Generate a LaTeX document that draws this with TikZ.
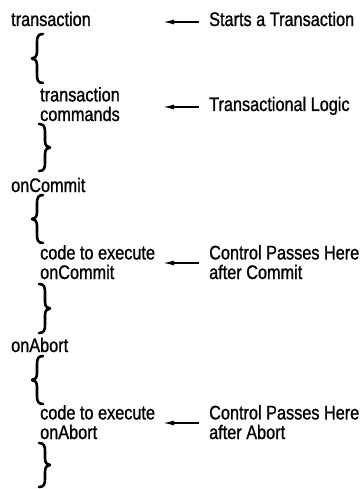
\documentclass[tikz,border=0pt]{standalone}
\usepackage{fontspec}
\setmainfont{Liberation Sans}[FakeStretch=0.83, FakeBold=1]
\usetikzlibrary{arrows.meta}
\tikzset{
  txt/.style={anchor=base west, inner sep=0pt, align=left,
              font=\fontsize{19.6}{19.6}\selectfont},
  ptr/.style={line width=1.4pt, -{Latex[length=11pt,width=5pt]}},
  brace/.style={line width=2.6pt, line cap=round, line join=round}
}
% opening brace: top at y=#2, bottom at y=#3, tips at x=#1+11, point at x=#1
\newcommand{\openbr}[3]{%
  \draw[brace] (#1+11,#2) .. controls (#1+6,#2) and (#1+5,#2+3) .. (#1+5,#2+8)
    -- (#1+5,{(#2+#3)/2-7}) .. controls (#1+5,{(#2+#3)/2-2}) and (#1+3,{(#2+#3)/2}) .. (#1,{(#2+#3)/2})
    .. controls (#1+3,{(#2+#3)/2}) and (#1+5,{(#2+#3)/2+2}) .. (#1+5,{(#2+#3)/2+7})
    -- (#1+5,#3-8) .. controls (#1+5,#3-3) and (#1+6,#3) .. (#1+11,#3);}
% closing brace: tips at x=#1, point at x=#1+11
\newcommand{\closebr}[3]{%
  \draw[brace] (#1,#2) .. controls (#1+5,#2) and (#1+6,#2+3) .. (#1+6,#2+8)
    -- (#1+6,{(#2+#3)/2-7}) .. controls (#1+6,{(#2+#3)/2-2}) and (#1+8,{(#2+#3)/2}) .. (#1+11,{(#2+#3)/2})
    .. controls (#1+8,{(#2+#3)/2}) and (#1+6,{(#2+#3)/2+2}) .. (#1+6,{(#2+#3)/2+7})
    -- (#1+6,#3-8) .. controls (#1+6,#3-3) and (#1+5,#3) .. (#1,#3);}
\begin{document}
\begin{tikzpicture}[x=1pt, y=-1pt]
  \useasboundingbox (0,0) rectangle (361,489);

  % left column: code skeleton (multi-line nodes placed by last baseline)
  \node[txt] (tr)   at (11,26)  {transaction};
  \node[txt] (cmd)  at (40,121) {transaction\\commands};
  \node[txt] (oc)   at (11,192) {onCommit};
  \node[txt] (occ)  at (40,279) {code to execute\\onCommit};
  \node[txt] (oa)   at (11,352) {onAbort};
  \node[txt] (oac)  at (40,439) {code to execute\\onAbort};

  % braces
  \openbr{32}{34}{83}
  \closebr{39}{124}{171}
  \openbr{32}{195}{243}
  \closebr{39}{284}{333}
  \openbr{32}{356}{404}
  \closebr{39}{443}{487}

  % right column: annotations
  \node[txt] (n1) at (209,26)  {Starts a Transaction};
  \node[txt] (n2) at (209,111) {Transactional Logic};
  \node[txt] (n3) at (209,279) {Control Passes Here\\after Commit};
  \node[txt] (n4) at (209,439) {Control Passes Here\\after Abort};

  % arrow tips
  \coordinate (t1) at (163,22);
  \coordinate (t2) at (163,107);
  \coordinate (t3) at (163,263);
  \coordinate (t4) at (163,423);

  \draw[ptr] ([xshift=-10pt]t1 -| n1.west) -- (t1);
  \draw[ptr] ([xshift=-10pt]t2 -| n2.west) -- (t2);
  \draw[ptr] ([xshift=-10pt]t3 -| n3.west) -- (t3);
  \draw[ptr] ([xshift=-10pt]t4 -| n4.west) -- (t4);
\end{tikzpicture}
\end{document}
